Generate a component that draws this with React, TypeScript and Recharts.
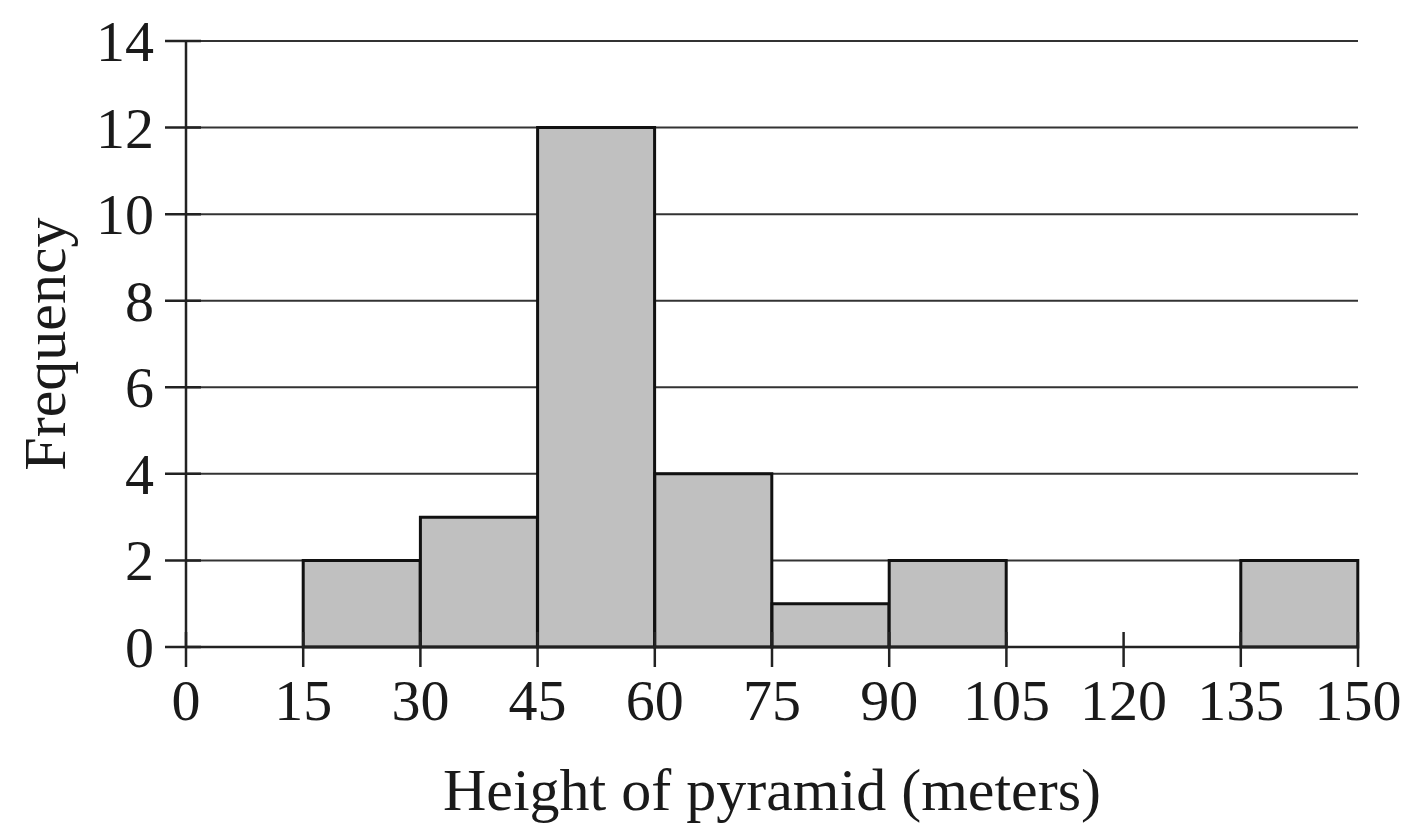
import { BarChart, Bar, XAxis, YAxis, CartesianGrid, Label } from 'recharts'

const binStarts = [0, 15, 30, 45, 60, 75, 90, 105, 120, 135]
const binWidth = 15
const frequencies = [0, 2, 3, 12, 4, 1, 2, 0, 0, 2]
const xTicks = [0, 15, 30, 45, 60, 75, 90, 105, 120, 135, 150]
const yTicks = [0, 2, 4, 6, 8, 10, 12, 14]

// bars are centred on the bin middle of a numeric axis
const data = binStarts.map((s, i) => ({ mid: s + binWidth / 2, count: frequencies[i] }))

const FONT = "'Liberation Serif', 'Times New Roman', serif"
const INK = '#222'

function XTick(props: any) {
  const { x, y, payload } = props
  return (
    <g>
      <line x1={x} x2={x} y1={y - 17} y2={y + 18} stroke={INK} strokeWidth={2.5} />
      <text x={x} y={y + 71} textAnchor="middle" fontFamily={FONT} fontSize={58} fill="#1a1a1a">
        {payload.value}
      </text>
    </g>
  )
}

function YTick(props: any) {
  const { x, y, payload } = props
  return (
    <g>
      <line x1={x - 19} x2={x + 17} y1={y} y2={y} stroke={INK} strokeWidth={2.5} />
      <text x={x - 30} y={y + 20} textAnchor="end" fontFamily={FONT} fontSize={58} fill="#1a1a1a">
        {payload.value}
      </text>
    </g>
  )
}

export default function App() {
  return (
    <div style={{ position: 'absolute', left: 0, top: 0, background: '#fff' }}>
      <BarChart
        width={1406}
        height={838}
        data={data}
        margin={{ top: 41, right: 48, left: 0, bottom: 0 }}
        barCategoryGap={0}
        barGap={0}
      >
        <CartesianGrid horizontal vertical={false} stroke="#333" strokeWidth={2} />
        <XAxis
          dataKey="mid"
          type="number"
          domain={[0, 150]}
          ticks={xTicks}
          interval={0}
          height={191}
          tickSize={0}
          tickLine={false}
          axisLine={{ stroke: INK, strokeWidth: 2.5 }}
          tick={XTick}
        >
          <Label
            content={(p: any) => {
              const vb = p.viewBox
              return (
                <text x={vb.x + vb.width / 2} y={810} textAnchor="middle" fontFamily={FONT} fontSize={60} fill="#1a1a1a">
                  Height of pyramid (meters)
                </text>
              )
            }}
          />
        </XAxis>
        <YAxis
          type="number"
          domain={[0, 14]}
          ticks={yTicks}
          interval={0}
          width={186}
          tickSize={0}
          tickLine={false}
          axisLine={{ stroke: INK, strokeWidth: 2.5 }}
          tick={YTick}
        >
          <Label
            content={(p: any) => {
              const vb = p.viewBox
              const cy = vb.y + vb.height / 2
              return (
                <text x={65} y={cy} textAnchor="middle" transform={`rotate(-90, 65, ${cy})`} fontFamily={FONT} fontSize={60} fill="#1a1a1a">
                  Frequency
                </text>
              )
            }}
          />
        </YAxis>
        <Bar dataKey="count" fill="#c0c0c0" stroke="#111" strokeWidth={3} isAnimationActive={false} />
      </BarChart>
    </div>
  )
}
